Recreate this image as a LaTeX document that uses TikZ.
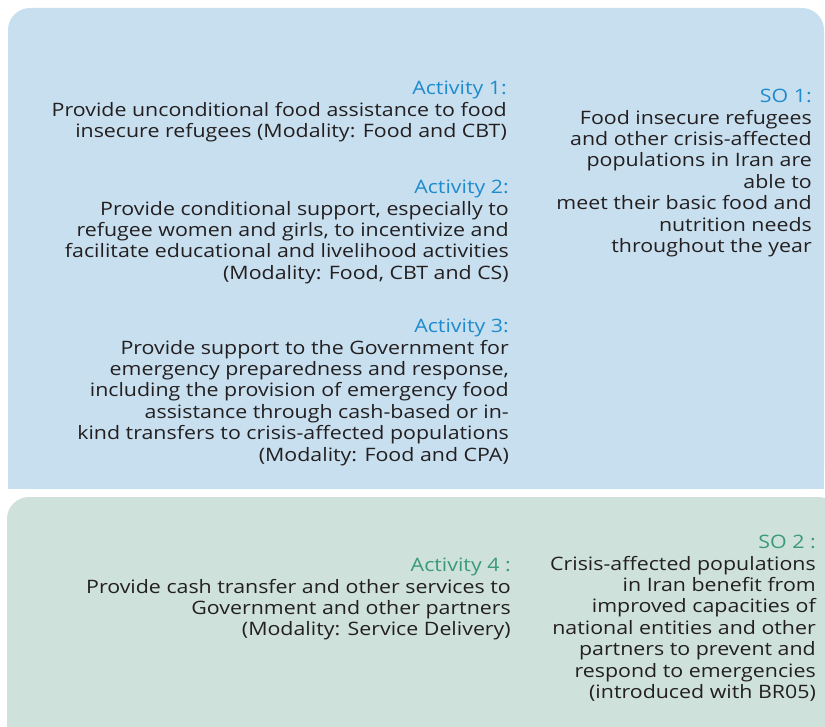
\documentclass[tikz,border=0pt]{standalone}
\usepackage{fontspec}
\setmainfont[FakeStretch=1.155]{Open Sans}
\usepackage{tikz}
\usetikzlibrary{positioning}
\definecolor{soblue}{RGB}{200,223,239}
\definecolor{sogreen}{RGB}{206,225,219}
\definecolor{headblue}{RGB}{30,139,205}
\definecolor{headgreen}{RGB}{58,154,122}
\definecolor{bodytext}{RGB}{35,31,32}

\begin{document}
\begin{tikzpicture}[
  x=1pt,y=-1pt,
  font=\fontsize{18.5}{21.4}\selectfont,
  txt/.style={anchor=north east,align=right,inner sep=0pt,text=bodytext},
  panel/.style={rounded corners=22pt}
]
  \useasboundingbox (0,0) rectangle (825,727);
  \clip (0,0) rectangle (825,727);

  % the two outcome bands
  \fill[soblue,panel] (8,8) rectangle (824,489);
  \fill[soblue] (8,460) rectangle (824,489);
  \fill[sogreen,panel] (7,497) rectangle (840,760);

  % activities, right aligned in the left column
  \node[txt] (act1) at (507,81)
    {\textcolor{headblue}{Activity 1:}\\
     Provide unconditional food assistance to food\\
     insecure refugees (Modality: Food and CBT)};
  \node[txt] (act2) at (509,180)
    {\textcolor{headblue}{Activity 2:}\\
     Provide conditional support, especially to\\
     refugee women and girls, to incentivize and\\
     facilitate educational and livelihood activities\\
     (Modality: Food, CBT and CS)};
  \node[txt] (act3) at (509,319)
    {\textcolor{headblue}{Activity 3:}\\
     Provide support to the Government for\\
     emergency preparedness and response,\\
     including the provision of emergency food\\
     assistance through cash-based or in-\\
     kind transfers to crisis-affected populations\\
     (Modality: Food and CPA)};
  \node[txt] (act4) at (511,558)
    {\textcolor{headgreen}{Activity 4 :}\\
     Provide cash transfer and other services to\\
     Government and other partners\\
     (Modality: Service Delivery)};

  % strategic outcomes, right column
  \node[txt] (so1) at (812,89)
    {\textcolor{headblue}{SO 1:}\\
     Food insecure refugees\\
     and other crisis-affected\\
     populations in Iran are\\
     able to\\
     meet their basic food and\\
     nutrition needs\\
     throughout the year};
  \node[txt] (so2) at (816,535)
    {\textcolor{headgreen}{SO 2 :}\\
     Crisis-affected populations\\
     in Iran benefit from\\
     improved capacities of\\
     national entities and other\\
     partners to prevent and\\
     respond to emergencies\\
     (introduced with BR05)};
\end{tikzpicture}
\end{document}
